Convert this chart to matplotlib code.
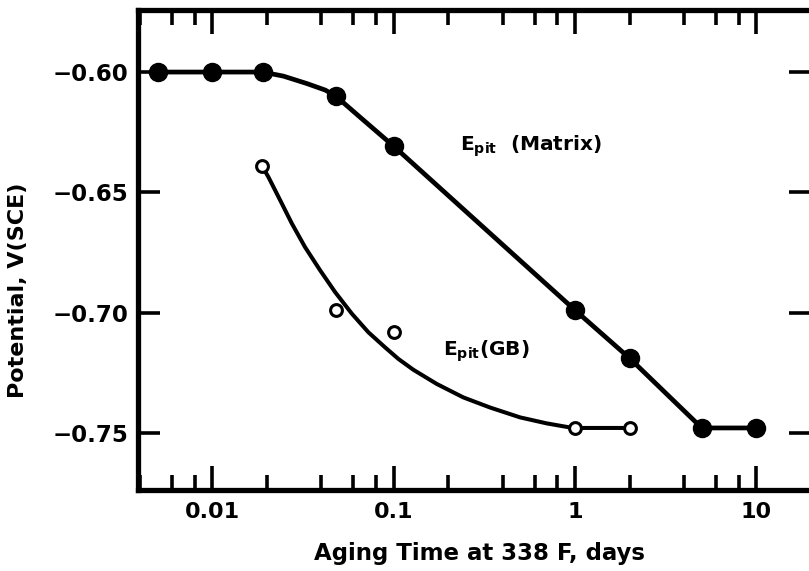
import numpy as np
import matplotlib
matplotlib.use('Agg')
import matplotlib.pyplot as plt
from matplotlib.ticker import FixedLocator, NullFormatter

plt.rcParams['font.family'] = ['DejaVu Sans']
plt.rcParams['font.weight'] = 'bold'
plt.rcParams['mathtext.fontset'] = 'dejavusans'

# measured points, E_pit (Matrix) - filled circles
matrix_days = [0.005, 0.01, 0.019, 0.048, 0.1, 1, 2, 5, 10]
matrix_pot = [-0.600, -0.600, -0.600, -0.6100, -0.6308, -0.699, -0.719, -0.748, -0.748]

# hand-drawn curve through the matrix points
matrix_curve_days = [0.005, 0.01, 0.019, 0.0247, 0.0333, 0.042, 0.048, 0.0654,
                     0.1, 1, 2, 5, 10]
matrix_curve_pot = [-0.600, -0.600, -0.600, -0.6017, -0.6048, -0.6075, -0.6100,
                    -0.6188, -0.6308, -0.699, -0.719, -0.748, -0.748]

# measured points, E_pit (GB) - open circles
gb_days = [0.0188, 0.048, 0.1, 1, 2]
gb_pot = [-0.639, -0.699, -0.7083, -0.748, -0.748]

# fitted curve for GB
gb_curve_days = [0.0188, 0.0204, 0.0237, 0.0275, 0.0325, 0.0394, 0.0476,
                 0.0589, 0.0726, 0.0898, 0.1063, 0.1285, 0.173, 0.2424,
                 0.3402, 0.4977, 0.6985, 0.9388, 1.0, 2.0]
gb_curve_pot = [-0.639, -0.6436, -0.6533, -0.6630, -0.6728, -0.6825, -0.6915,
                -0.7005, -0.7082, -0.7145, -0.7193, -0.7238, -0.7297, -0.7353,
                -0.7395, -0.7436, -0.7461, -0.7478, -0.748, -0.748]

y_ticks = [-0.60, -0.65, -0.70, -0.75]
x_major = [0.01, 0.1, 1, 10]
x_major_labels = ['0.01', '0.1', '1', '10']

fig = plt.figure(figsize=(8.09, 5.71), dpi=100)
ax = fig.add_axes([138 / 809, 81 / 571, 673 / 809, 480 / 571])

ax.plot(matrix_curve_days, matrix_curve_pot, color='black', lw=3.4,
        solid_capstyle='round', solid_joinstyle='round')
ax.plot(matrix_days, matrix_pot, 'o', color='black', ms=13)

ax.plot(gb_curve_days, gb_curve_pot, color='black', lw=2.9,
        solid_capstyle='round', solid_joinstyle='round')
ax.plot(gb_days, gb_pot, 'o', mfc='white', mec='black', mew=2.2, ms=8.5)

ax.set_xscale('log')
ax.set_xlim(0.0039, 20)
ax.set_ylim(-0.7738, -0.5742)

ax.xaxis.set_major_locator(FixedLocator(x_major))
ax.set_xticklabels(x_major_labels)
minors = [m * d for d in [0.001, 0.01, 0.1, 1, 10] for m in [2, 4, 6, 8]]
ax.xaxis.set_minor_locator(FixedLocator(minors))
ax.xaxis.set_minor_formatter(NullFormatter())

ax.set_yticks(y_ticks)
ax.set_yticklabels(['\u2212' + f'{abs(v):.2f}' for v in y_ticks])

for s in ax.spines.values():
    s.set_linewidth(3.8)

ax.tick_params(axis='x', which='major', direction='in', length=17, width=2.6,
               top=True, labelsize=16, pad=9)
ax.tick_params(axis='x', which='minor', direction='in', length=11, width=2.6,
               top=True)
ax.tick_params(axis='y', which='major', direction='in', length=16, width=2.6,
               right=True, labelsize=16.5, pad=7)

ax.set_xlabel('Aging Time at 338 F, days', fontsize=16.5, fontweight='bold')
ax.xaxis.set_label_coords(0.508, -0.108)
ax.set_ylabel('Potential, V(SCE)', fontsize=16, fontweight='bold')
# ylabel anchor is its right edge once rotated
ax.yaxis.set_label_coords(-0.163, 0.415)

ax.text(0.2325, -0.6325, r'$\mathbf{E_{pit}}$  (Matrix)', fontsize=14.5,
        fontweight='bold', va='baseline', ha='left')
ax.text(0.1874, -0.7179, r'$\mathbf{E_{pit}}$(GB)', fontsize=14.5,
        fontweight='bold', va='baseline', ha='left')

fig.savefig('out.png', dpi=100)
